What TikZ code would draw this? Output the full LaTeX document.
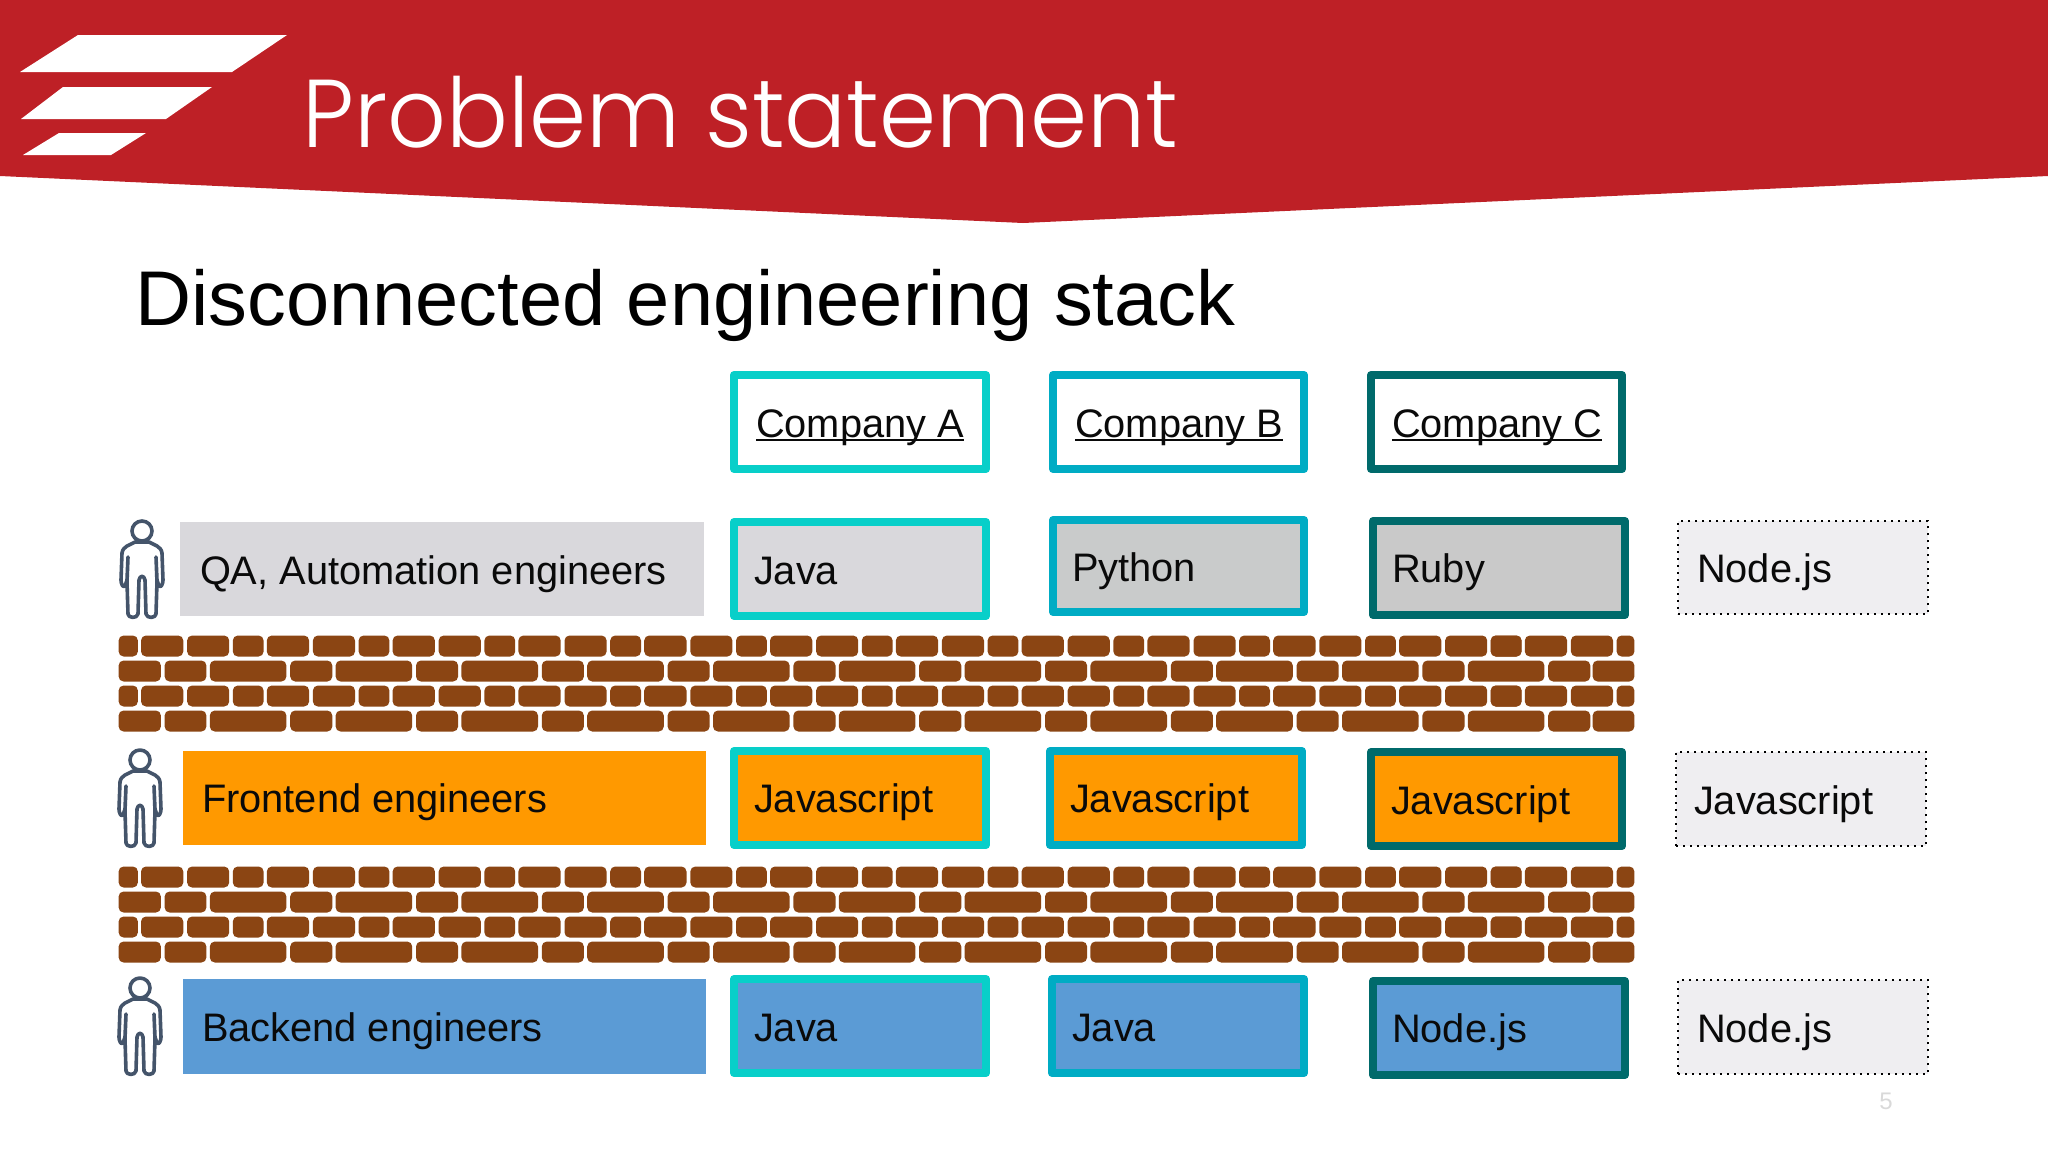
\documentclass[tikz,border=0pt]{standalone}
\usepackage{fontspec}
\setmainfont{Liberation Sans}
\newfontfamily\titlefont{Poppins Light}
\definecolor{hdr}{HTML}{BE2026}
\definecolor{ca}{HTML}{08CFC9}
\definecolor{cb}{HTML}{00ACC4}
\definecolor{cc}{HTML}{006A6B}
\definecolor{greyA}{HTML}{D9D8DC}
\definecolor{greyB}{HTML}{C9CBCB}
\definecolor{greyC}{HTML}{C9C9C9}
\definecolor{orangeF}{HTML}{FF9900}
\definecolor{blueB}{HTML}{5B9BD5}
\definecolor{paleB}{HTML}{EFEEF1}
\definecolor{brickC}{HTML}{8B4513}
\definecolor{slateP}{HTML}{44546A}
\definecolor{ink}{HTML}{0A0A0A}
\newcommand\ulin[1]{\setbox0=\hbox{#1}\rlap{\rule[-0.11em]{\wd0}{0.06em}}\box0}
\tikzset{
  x=0.5pt,y=-0.5pt,
  boxbase/.style={inner sep=0pt,outer sep=0pt,line join=round,line width=4pt},
  plain/.style={fill=#1,inner sep=0pt,outer sep=0pt},
  ruled/.style={boxbase,draw=#1},
  dots/.style={inner sep=0pt,outer sep=0pt,fill=paleB,draw=black,line width=1.4pt,dash pattern=on 1.2pt off 2.3pt},
  lbl/.style={anchor=base west,inner sep=0pt,outer sep=0pt,text=ink,font=\fontsize{19.9}{24}\selectfont},
  brick/.style={fill=brickC,rounded corners=2.5pt},
  persona/.style={draw=slateP,fill=white,line width=1.8pt,line join=round,line cap=round}
}
% outer-edge box: name, x0,y0,x1,y1, stroke px, style
\newcommand\mybox[7]{%
  \pgfmathsetmacro\bw{(#4-#2-#6)/2}%
  \pgfmathsetmacro\bh{(#5-#3-#6)/2}%
  \node[#7,minimum width=\bw pt,minimum height=\bh pt] (#1) at ({(#2+#4)/2},{(#3+#5)/2}) {};}
\newcommand\brk[3]{\path[brick] (#1-0.4,#3-0.5) rectangle (#2+0.4,#3+20.5);}
\newcommand\rowA[1]{%
  \brk{119}{137.5}{#1}%
  \foreach \k in {-1,...,10}{%
    \pgfmathsetmacro\sa{233.2+\k*125.8}\pgfmathsetmacro\sb{\sa+30}%
    \pgfmathsetmacro\la{267.2+\k*125.8}\pgfmathsetmacro\lb{\la+41.5}%
    \pgfmathsetmacro\ma{313.3+\k*125.8}\pgfmathsetmacro\mb{\ma+41.3}%
    \brk{\la}{\lb}{#1}\brk{\ma}{\mb}{#1}%
    \ifnum\k>-1 \brk{\sa}{\sb}{#1}\fi}%
  \brk{1491}{1521}{#1}\brk{1617}{1634}{#1}}
\newcommand\rowB[1]{%
  \brk{119}{160.5}{#1}\brk{165}{206}{#1}%
  \foreach \k in {0,...,10}{%
    \pgfmathsetmacro\la{210.2+\k*125.8}\pgfmathsetmacro\lb{\la+75.8}%
    \pgfmathsetmacro\sa{290.6+\k*125.8}\pgfmathsetmacro\sb{\sa+41.3}%
    \brk{\la}{\lb}{#1}\brk{\sa}{\sb}{#1}}%
  \brk{1593}{1634}{#1}}
\newcommand\wall[1]{\rowA{#1}\rowB{#1+25}\rowA{#1+50}\rowB{#1+75}}
\newcommand\persn[2]{%
  \begin{scope}[shift={(#1,#2)}]
    \draw[persona] (-7,22) .. controls (-12,25) and (-19,26) .. (-20,33) -- (-21,60) .. controls (-21,64) and (-19,68) .. (-17,66) -- (-15,60) -- (-14,37) -- (-15,62) -- (-14,94) .. controls (-14,98) and (-5,99) .. (-4,94) -- (-3,60) .. controls (-2,55) and (2,55) .. (3,60) -- (4,94) .. controls (5,99) and (14,98) .. (14,94) -- (15,62) -- (14,37) -- (15,60) -- (17,66) .. controls (19,68) and (21,64) .. (21,60) -- (20,33) .. controls (19,26) and (12,25) .. (7,22) -- cycle;
    \draw[persona] (0,11) circle [radius=10];
  \end{scope}}
\begin{document}
\begin{tikzpicture}
\useasboundingbox (0,0) rectangle (2048,1152);
% header
\fill[hdr] (0,0) -- (2048,0) -- (2048,176) -- (1023,223) -- (0,176) -- cycle;
\fill[white] (20,72) -- (78,35) -- (287,35) -- (232,72) -- cycle;
\fill[white] (21,119) -- (63,87) -- (212,87) -- (166,119) -- cycle;
\fill[white] (23,155) -- (59,133) -- (146,133) -- (111,155) -- cycle;
\node[anchor=base west,inner sep=0pt,text=white] (title) at (302,147) {\scalebox{1}[1.05]{\resizebox{438pt}{!}{\titlefont Problem statement}}};
\node[anchor=base west,inner sep=0pt,text=black,font=\fontsize{38.8}{46}\selectfont] (sub) at (135,325) {Disconnected engineering stack};
% company headers
\mybox{cA}{730}{371}{990}{473}{8}{ruled=ca,fill=white}
\mybox{cB}{1049}{371}{1308}{473}{8}{ruled=cb,fill=white}
\mybox{cC}{1367}{371}{1626}{473}{8}{ruled=cc,fill=white}
\node[lbl] (tA) at (756,437) {\ulin{Company A}};
\node[lbl] (tB) at (1075,437) {\ulin{Company B}};
\node[lbl] (tC) at (1392,437) {\ulin{Company C}};
% QA row
\mybox{r1}{180}{522}{704}{616}{0}{plain=greyA}
\mybox{a1}{730}{518}{990}{620}{8}{ruled=ca,fill=greyA}
\mybox{b1}{1049}{516}{1308}{616}{8}{ruled=cb,fill=greyB}
\mybox{c1}{1369}{517}{1629}{619}{8}{ruled=cc,fill=greyC}
\mybox{d1}{1677}{520}{1929}{615}{2}{dots}
\node[lbl] at (200,584) (l1) {QA, Automation engineers};
\node[lbl] at (754,584) (la1) {Java};
\node[lbl] at (1072,581) (lb1) {Python};
\node[lbl] at (1392,582) (lc1) {Ruby};
\node[lbl] at (1697,582) (ld1) {Node.js};
% walls
\wall{636}
\wall{867}
% Frontend row
\mybox{r2}{183}{751}{706}{845}{0}{plain=orangeF}
\mybox{a2}{730}{747}{990}{849}{8}{ruled=ca,fill=orangeF}
\mybox{b2}{1046}{747}{1306}{849}{8}{ruled=cb,fill=orangeF}
\mybox{c2}{1367}{748}{1626}{850}{8}{ruled=cc,fill=orangeF}
\mybox{d2}{1675}{751}{1927}{847}{2}{dots}
\node[lbl] at (202,812) (l2) {Frontend engineers};
\node[lbl] at (754,812) (la2) {Javascript};
\node[lbl] at (1070,812) (lb2) {Javascript};
\node[lbl] at (1391,814) (lc2) {Javascript};
\node[lbl] at (1694,814) (ld2) {Javascript};
% Backend row
\mybox{r3}{183}{979}{706}{1074}{0}{plain=blueB}
\mybox{a3}{730}{975}{990}{1077}{8}{ruled=ca,fill=blueB}
\mybox{b3}{1048}{975}{1308}{1077}{8}{ruled=cb,fill=blueB}
\mybox{c3}{1369}{977}{1629}{1079}{8}{ruled=cc,fill=blueB}
\mybox{d3}{1677}{979}{1929}{1075}{2}{dots}
\node[lbl] at (202,1041) (l3) {Backend engineers};
\node[lbl] at (754,1041) (la3) {Java};
\node[lbl] at (1072,1041) (lb3) {Java};
\node[lbl] at (1392,1042) (lc3) {Node.js};
\node[lbl] at (1697,1042) (ld3) {Node.js};
% people
\persn{142}{520}
\persn{140}{749}
\persn{140}{977}
% page number
\node[anchor=base,inner sep=0pt,text=black!15,font=\fontsize{12}{14}\selectfont] (pg) at (1886,1109) {5};
\end{tikzpicture}
\end{document}
